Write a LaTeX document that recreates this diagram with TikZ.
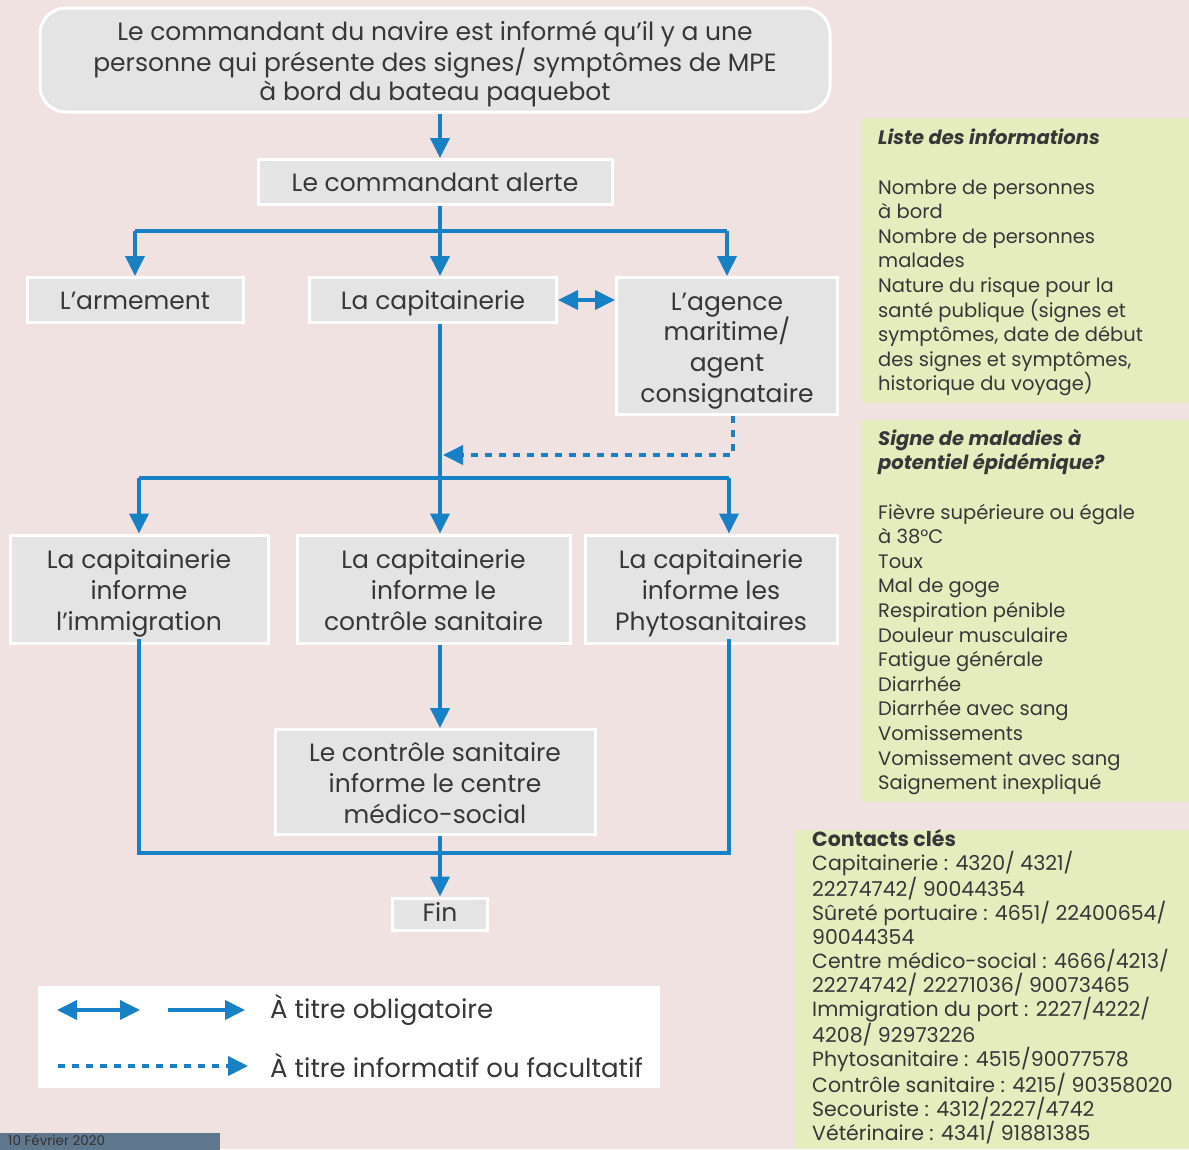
\documentclass[tikz,border=0pt]{standalone}
\usepackage{fontspec}
\setmainfont{Poppins}
\usetikzlibrary{arrows.meta}
\definecolor{bg}{RGB}{240,226,224}
\definecolor{boxgray}{RGB}{228,228,228}
\definecolor{flow}{RGB}{24,128,196}
\definecolor{panel}{RGB}{229,236,190}
\definecolor{txt}{RGB}{55,55,55}
\definecolor{slate}{RGB}{96,120,142}
% struts that keep the lines of every box on the same optical centre
\newcommand\boxstrut{\rule[-9.5pt]{0pt}{38.5pt}}
\newcommand\firstline{\rule{0pt}{30pt}}
\tikzset{
  stepbox/.style={draw=white, line width=3pt, fill=boxgray, text=txt, align=center,
    inner sep=0pt, font=\fontsize{25}{30.8}\selectfont,
    execute at begin node=\boxstrut, execute at end node=\boxstrut},
  link/.style={draw=flow, line width=3.8pt, line cap=butt},
  tip/.style={-{Triangle[length=20pt,width=19pt]}},
  dtip/.style={{Triangle[length=20pt,width=19pt]}-{Triangle[length=20pt,width=19pt]}},
  dotted link/.style={link, dash pattern=on 7pt off 7pt},
  paneltext/.style={anchor=north west, align=left, text=txt, inner sep=0pt,
    font=\fontsize{19.5}{24.6}\selectfont},
  legendtext/.style={anchor=west, text=txt, inner sep=0pt, font=\fontsize{26}{30}\selectfont},
}
\begin{document}
\begin{tikzpicture}[x=1pt,y=-1pt]
\useasboundingbox (0,0) rectangle (1189,1149);
\clip (0,0) rectangle (1189,1149);
\fill[bg] (0,0) rectangle (1189,1149);

% flowchart boxes
\node[stepbox, rounded corners=26pt, minimum width=790pt, minimum height=104pt,
  font=\fontsize{25}{28.8}\selectfont] (start) at (435,60)
  {\firstline Le commandant du navire est informé qu'il y a une\\personne qui présente des signes/ symptômes de MPE\\à bord du bateau paquebot};
\node[stepbox, minimum width=354pt, minimum height=45pt] (alerte) at (435,182) {Le commandant alerte};
\node[stepbox, minimum width=216pt, minimum height=45pt] (armement) at (135,300) {L'armement};
\node[stepbox, minimum width=247pt, minimum height=45pt] (capit) at (433,300) {La capitainerie};
\node[stepbox, minimum width=221pt, minimum height=137pt] (agence) at (727,346) {\firstline L'agence\\maritime/\\agent\\consignataire};
\node[stepbox, minimum width=258pt, minimum height=108pt] (immig) at (139,589) {\firstline La capitainerie\\informe\\l'immigration};
\node[stepbox, minimum width=273pt, minimum height=108pt] (csan) at (433.5,589) {\firstline La capitainerie\\informe le\\contrôle sanitaire};
\node[stepbox, minimum width=252pt, minimum height=108pt] (phyto) at (711,589) {\firstline La capitainerie\\informe les\\Phytosanitaires};
\node[stepbox, minimum width=320pt, minimum height=105pt] (csm) at (435,782) {\firstline Le contrôle sanitaire\\informe le centre\\médico-social};
\node[stepbox, minimum width=95pt, minimum height=32pt, execute at begin node={},
  execute at end node={}, text height=16pt, text depth=2pt] (fin) at (440,914) {Fin};

% branch points
\coordinate (t1) at (440,231);
\coordinate (t2) at (440,478);
\coordinate (t3) at (440,853);
\coordinate (dd) at (733,455);

% connectors
\draw[link, tip] (start.south -| t1) -- (alerte.north -| t1);
\draw[link] (alerte.south -| t1) -- (t1);
\draw[link] (t1 -| armement) -- (t1 -| agence);
\draw[link, tip] (t1 -| armement) -- (armement.north);
\draw[link, tip] (t1) -- (capit.north -| t1);
\draw[link, tip] (t1 -| agence) -- (agence.north);
\draw[link, dtip] (capit.east) -- (agence.west |- capit.east);
\draw[link] (capit.south -| t2) -- (t2);
\draw[dotted link, tip] (agence.south -| dd) -- (dd) -- ([xshift=3pt]dd -| t2);
\draw[link] (t2 -| immig) -- ([xshift=2pt]t2 -| agence);
\draw[link, tip] (t2 -| immig) -- (immig.north);
\draw[link, tip] (t2) -- (csan.north -| t2);
\draw[link, tip] ([xshift=2pt]t2 -| agence) -- ([xshift=2pt]phyto.north -| agence);
\draw[link, tip] (csan.south -| t2) -- (csm.north -| t2);
\draw[link] ([yshift=6pt]immig.south) -- (t3 -| immig) -- ([xshift=2pt]t3 -| agence) -- ([xshift=2pt,yshift=6pt]phyto.south -| agence);
\draw[link, tip] (csm.south -| t3) -- (fin.north -| t3);

% legend
\node[fill=white, minimum width=622pt, minimum height=102pt, inner sep=0pt] (legend) at (349,1037) {};
\coordinate (la) at (57,1010);
\coordinate (lb) at (140,1010);
\coordinate (lc) at (168,1010);
\coordinate (ld) at (245,1010);
\coordinate (le) at (58,1066);
\coordinate (lf) at (248,1066);
\draw[link, dtip] (la) -- (lb);
\draw[link, tip] (lc) -- (ld);
\draw[dotted link, tip] (le) -- (lf);
\node[legendtext] (oblig) at (270,1010) {À titre obligatoire};
\node[legendtext] (facult) at (270,1066) {À titre informatif ou facultatif};

% date tab
\node[fill=slate, anchor=north west, minimum width=220pt, minimum height=40pt, inner sep=0pt] (datetab) at (0,1133) {};
\node[anchor=north west, text=black!80, inner sep=0pt, font=\fontsize{13.5}{14}\selectfont] (datetext) at (8,1134.5) {10 Février 2020};

% side panels
\fill[panel] (862,118) rectangle (1189,403);
\node[paneltext] (infos) at (878,129) {\textbf{\textit{Liste des informations}}\\[24.6pt]
Nombre de personnes\\à bord\\Nombre de personnes\\malades\\Nature du risque pour la\\santé publique (signes et\\symptômes, date de début\\des signes et symptômes,\\historique du voyage)};

\fill[panel] (862,420) rectangle (1189,802);
\node[paneltext] (signes) at (878,429) {\textbf{\textit{Signe de maladies à}}\\\textbf{\textit{potentiel épidémique?}}\\[24.6pt]
Fièvre supérieure ou égale\\à 38°C\\Toux\\Mal de goge\\Respiration pénible\\Douleur musculaire\\Fatigue générale\\Diarrhée\\Diarrhée avec sang\\Vomissements\\Vomissement avec sang\\Saignement inexpliqué};

\fill[panel] (795,830) rectangle (1189,1149);
\node[paneltext, font=\fontsize{20.5}{24.1}\selectfont] (contacts) at (812,829) {\textbf{Contacts clés}\\
Capitainerie : 4320/ 4321/\\22274742/ 90044354\\Sûreté portuaire : 4651/ 22400654/\\90044354\\Centre médico-social : 4666/4213/\\22274742/ 22271036/ 90073465\\Immigration du port : 2227/4222/\\4208/ 92973226\\Phytosanitaire : 4515/90077578\\Contrôle sanitaire : 4215/ 90358020\\Secouriste : 4312/2227/4742\\Vétérinaire : 4341/ 91881385};
\end{tikzpicture}
\end{document}
